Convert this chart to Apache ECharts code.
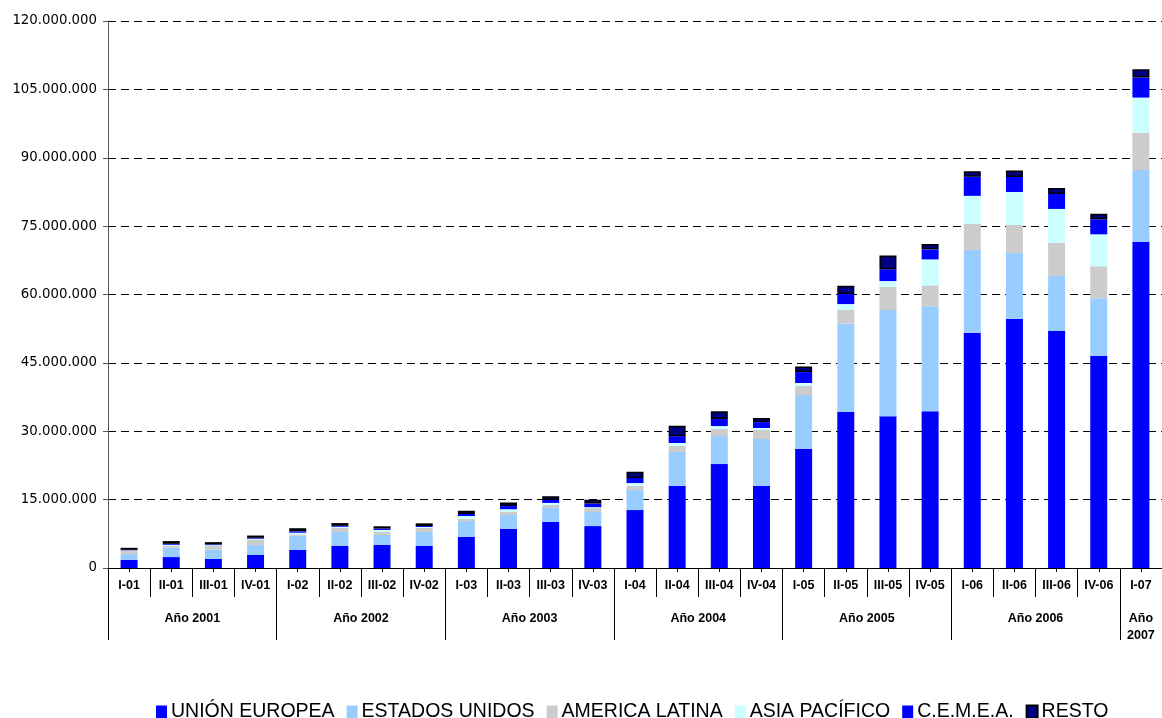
<!DOCTYPE html>
<html>
<head>
<meta charset="utf-8">
<script src="https://cdn.jsdelivr.net/npm/echarts@6/dist/echarts.min.js"></script>
<style>
html,body{margin:0;padding:0;background:#fff;}
#c{width:1162px;height:718px;}
</style>
</head>
<body>
<div id="c"></div>
<script>
// Quarters (categories)
const quarters = ['I-01','II-01','III-01','IV-01','I-02','II-02','III-02','IV-02','I-03','II-03','III-03','IV-03','I-04','II-04','III-04','IV-04','I-05','II-05','III-05','IV-05','I-06','II-06','III-06','IV-06','I-07'];
// Year groups
const years = ['Año 2001','Año 2002','Año 2003','Año 2004','Año 2005','Año 2006','Año\n2007'];
const yearSizes = [4,4,4,4,4,4,1];
// Series values (millions)
const unionEuropea = [1.76,2.4,1.97,2.85,3.95,4.83,5.05,4.83,6.8,8.56,10.1,9.2,12.7,18.0,22.8,18.0,26.1,34.2,33.3,34.4,51.6,54.6,52.0,46.5,71.5];
const estadosUnidos = [1.3,2.05,2.05,2.2,3.14,3.07,2.2,3.07,3.5,3.07,3.07,3.07,4.4,7.46,6.14,10.3,11.85,19.4,23.3,23.0,18.2,14.5,12.07,12.7,15.8];
const americaLatina = [0.72,0.45,0.8,1.17,0.3,0.95,0.66,0.95,0.44,0.66,0.66,0.88,0.88,1.3,1.54,1.97,1.97,3.0,5.05,4.6,5.7,6.14,7.24,7.0,8.2];
const asiaPacifico = [0.1,0.2,0.2,0.2,0.35,0.2,0.44,0.15,0.66,0.6,0.44,0.2,0.66,0.66,0.66,0.44,0.66,1.3,1.3,5.7,6.14,7.24,7.46,7.0,7.7];
const cemea = [0.1,0.2,0.15,0.2,0.3,0.2,0.3,0.2,0.44,0.7,0.66,0.8,1.1,1.5,1.54,1.3,2.4,2.2,2.6,2.2,4.2,3.3,3.3,3.3,4.4];
const resto = [0.45,0.6,0.5,0.5,0.7,0.6,0.5,0.6,0.7,0.8,0.8,0.8,1.4,2.3,1.7,0.9,1.2,1.8,3.0,1.2,1.2,1.4,1.3,1.2,1.8];
// Y axis ticks (millions)
const yMax = 120, yStep = 15;

const seriesNames = ['UNIÓN EUROPEA','ESTADOS UNIDOS','AMERICA LATINA','ASIA PACÍFICO','C.E.M.E.A.','RESTO'];
const seriesData = [unionEuropea, estadosUnidos, americaLatina, asiaPacifico, cemea, resto];
const colors = ['#0000FF','#99CCFF','#CCCCCC','#CCFFFF','#0000FF','#000080'];

// group boundaries and centers
const bounds = [0]; yearSizes.forEach(s => bounds.push(bounds[bounds.length-1] + s));
const centers = yearSizes.map((s,i) => bounds[i] + s/2);
const qCenters = quarters.map((q,i) => i + 0.5);

function fmt(v){
  const n = Math.round(v * 1000000);
  return String(n).replace(/\B(?=(\d{3})+(?!\d))/g, '.');
}

const chart = echarts.init(document.getElementById('c'), null, {renderer:'canvas'});
const narrow = '"Liberation Sans Narrow", "Arial Narrow", "Liberation Sans", Arial, sans-serif';

chart.setOption({
  animation: false,
  color: colors,
  grid: { left: 108, right: 0, top: 21, bottom: 150, containLabel: false },
  legend: {
    data: seriesNames,
    left: 151, top: 697,
    itemWidth: 11, itemHeight: 13, itemGap: 12,
    icon: 'rect',
    textStyle: { fontFamily: '"Liberation Sans", Arial, sans-serif', fontSize: 19.5, color: '#000', padding: [0,0,0,-1] }
  },
  xAxis: [
    {
      type: 'category', data: quarters, position: 'bottom',
      axisLine: { show: true, lineStyle: { color: '#000', width: 1 } },
      axisTick: { show: true, interval: 0, alignWithLabel: false, length: 29, lineStyle: { color: '#000' } },
      axisLabel: { interval: 0, margin: 11, fontFamily: narrow, fontWeight: 'bold', fontSize: 12.5, color: '#000' },
      splitLine: { show: false }
    },
    {
      type: 'value', min: 0, max: quarters.length, position: 'bottom',
      axisLine: { show: false },
      axisTick: { show: true, customValues: bounds, length: 72, lineStyle: { color: '#000' } },
      axisLabel: {
        show: true, customValues: centers, margin: 42,
        fontFamily: narrow, fontWeight: 'bold', fontSize: 12.5, color: '#000', lineHeight: 17,
        formatter: function(v){ const i = centers.findIndex(c => Math.abs(c - v) < 1e-6); return i >= 0 ? years[i] : ''; }
      },
      splitLine: { show: false }
    },
    {
      type: 'value', min: 0, max: quarters.length, position: 'bottom',
      axisLine: { show: false },
      axisTick: { show: true, customValues: qCenters, length: 4, lineStyle: { color: '#000' } },
      axisLabel: { show: false },
      splitLine: { show: false }
    }
  ],
  yAxis: {
    type: 'value', min: 0, max: yMax, interval: yStep,
    axisLine: { show: true, lineStyle: { color: '#555' } },
    axisTick: { show: true, length: 5, lineStyle: { color: '#555' } },
    axisLabel: { margin: 11, fontFamily: '"DejaVu Sans", sans-serif', fontSize: 13.3, color: '#000', formatter: fmt },
    splitLine: { show: true, lineStyle: { color: '#000', type: [8,5], width: 1 } }
  },
  series: seriesNames.map((name, i) => ({
    name: name, type: 'bar', stack: 'total', xAxisIndex: 0,
    data: seriesData[i], barWidth: 17,
    itemStyle: i === 5 ? { color: colors[i], borderColor: '#000', borderWidth: 1.5 } : { color: colors[i] }
  }))
});
</script>
</body>
</html>
